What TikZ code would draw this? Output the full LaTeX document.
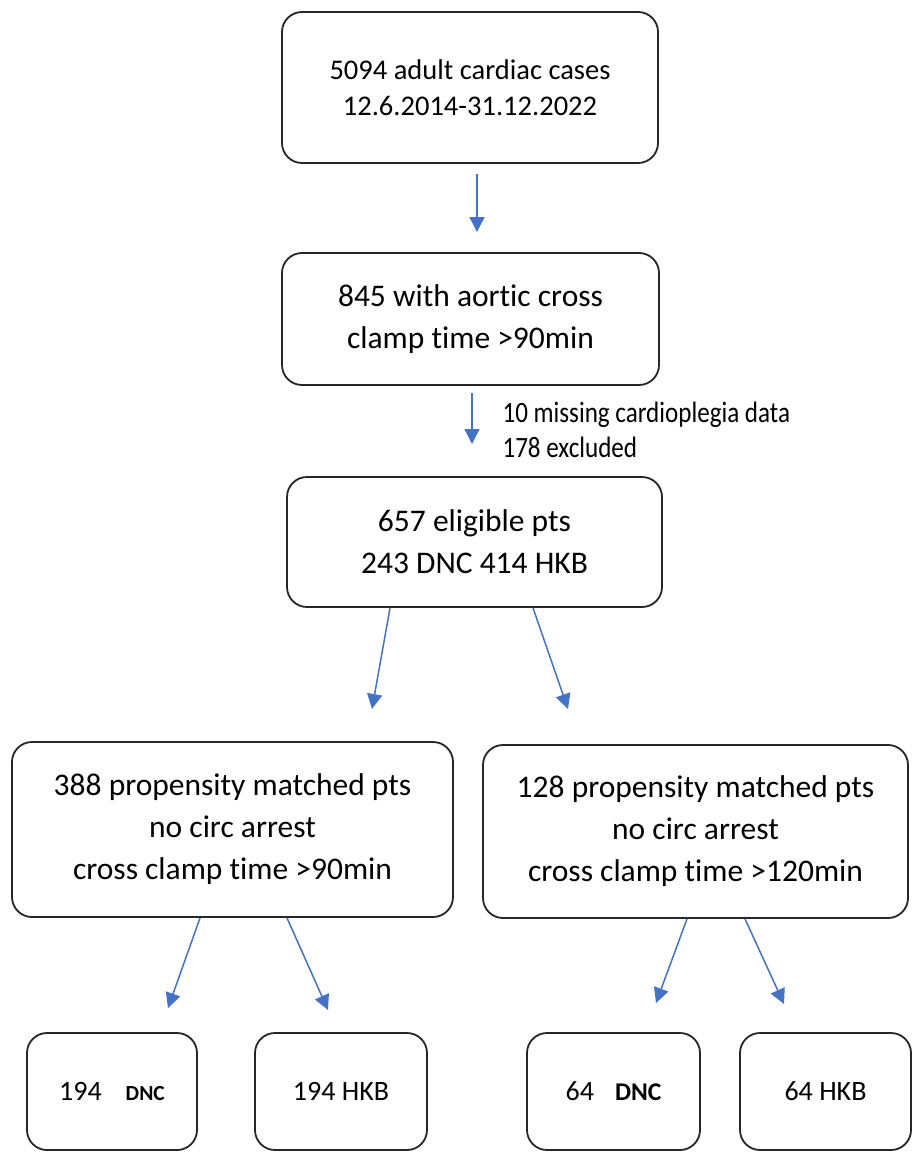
\documentclass[tikz,border=0pt]{standalone}
\usepackage{fontspec}
\setmainfont{Carlito}[Ligatures=NoCommon]
\newfontfamily\narrowfont{Carlito}[FakeStretch=0.85,Ligatures=NoCommon]
\usetikzlibrary{arrows.meta}
\definecolor{flowblue}{HTML}{4472C4}
\tikzset{
  box/.style={draw=black!85, line width=1.8pt, rounded corners=20pt, align=center, inner sep=0pt},
  flow/.style={-{Triangle[length=15pt,width=15pt]}, flowblue, line width=1.5pt},
  big/.style={font=\fontsize{31.5}{42}\selectfont},
  small/.style={font=\fontsize{28}{34}\selectfont},
}
\begin{document}
\begin{tikzpicture}[x=1pt,y=-1pt]
  \useasboundingbox (0,0) rectangle (913,1153);
  % boxes
  \node[box, minimum width=376pt, minimum height=151pt, font=\fontsize{28.5}{36}\selectfont] (cases) at (470,87.5)
    {5094 adult cardiac cases\\12.6.2014-31.12.2022};
  \node[box, big, minimum width=377pt, minimum height=132pt] (aortic) at (470.5,319)
    {845 with aortic cross\\clamp time >90min};
  \node[box, big, minimum width=375pt, minimum height=130pt] (elig) at (474.5,542)
    {657 eligible pts\\243 DNC 414 HKB};
  \node[box, big, minimum width=441pt, minimum height=175pt] (matchA) at (232.5,829.5)
    {388 propensity matched pts\\no circ arrest\\cross clamp time >90min};
  \node[box, big, minimum width=425pt, minimum height=173pt] (matchB) at (695.5,831.5)
    {128 propensity matched pts\\no circ arrest\\cross clamp time >120min};
  \node[box, small, minimum width=170pt, minimum height=117pt] (dncA) at (112,1091.5)
    {194\hspace{24pt}{\fontsize{21.5}{26}\selectfont\bfseries DNC}};
  \node[box, small, minimum width=172pt, minimum height=117pt] (hkbA) at (341,1091.5)
    {194 HKB};
  \node[box, small, minimum width=173pt, minimum height=117pt] (dncB) at (613.5,1091.5)
    {64\hspace{21pt}{\fontsize{25.5}{30}\selectfont\bfseries DNC}};
  \node[box, small, minimum width=171pt, minimum height=117pt] (hkbB) at (825.5,1091.5)
    {64 HKB};
  \node[anchor=west, align=left, font=\fontsize{29.5}{35}\narrowfont] (excl) at (499,430)
    {10 missing cardioplegia data\\178 excluded};
  % arrows
  \coordinate (to1) at (477,232);
  \coordinate (to2) at (472,444);
  \coordinate (toA) at (372,709);
  \coordinate (toB) at (568,709);
  \coordinate (toA1) at (168,1008);
  \coordinate (toA2) at (328,1010);
  \coordinate (toB1) at (656,1003);
  \coordinate (toB2) at (784,1004);
  \draw[flow] ([xshift=7pt,yshift=-10pt]cases.south) -- (to1);
  \draw[flow] ([xshift=1.5pt,yshift=-7pt]aortic.south) -- (to2);
  \draw[flow] ([xshift=-84.5pt]elig.south) -- (toA);
  \draw[flow] ([xshift=58.5pt]elig.south) -- (toB);
  \draw[flow] ([xshift=-32.5pt]matchA.south) -- (toA1);
  \draw[flow] ([xshift=54.5pt]matchA.south) -- (toA2);
  \draw[flow] ([xshift=-8.5pt]matchB.south) -- (toB1);
  \draw[flow] ([xshift=49.5pt]matchB.south) -- (toB2);
\end{tikzpicture}
\end{document}
